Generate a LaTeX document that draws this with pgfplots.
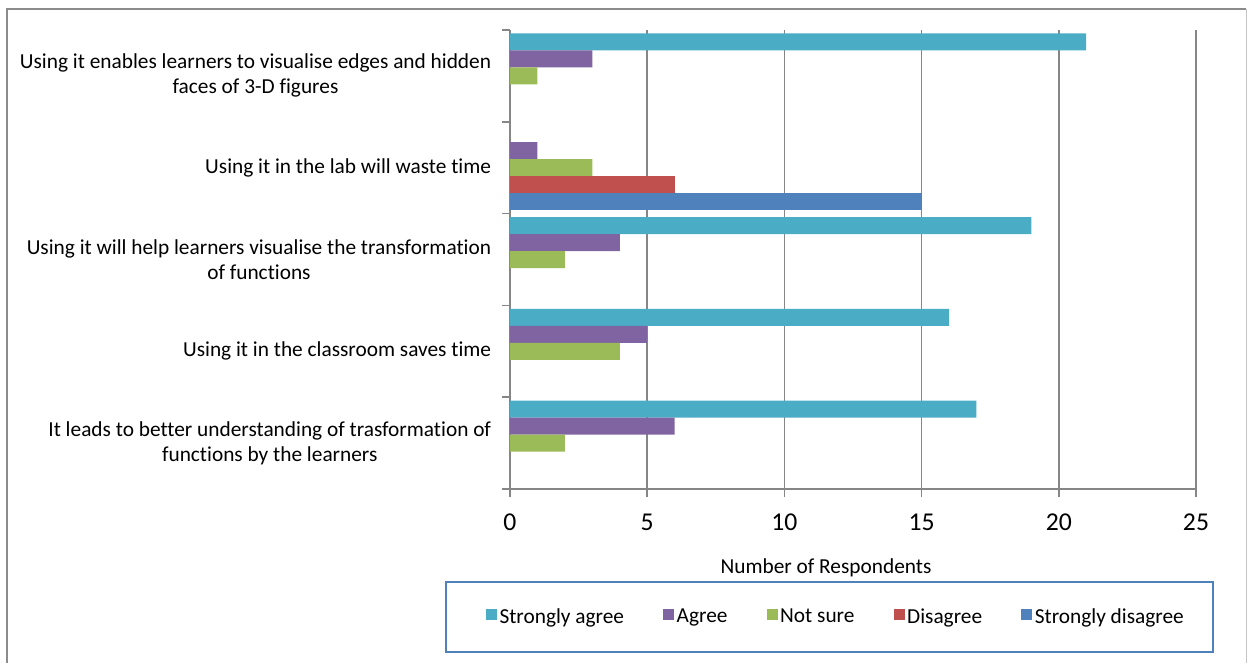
\documentclass[border=0pt]{standalone}
\usepackage{fontspec}
\setmainfont{Carlito}[Ligatures=NoCommon]
\usepackage{pgfplots}
\pgfplotsset{compat=1.18}
\definecolor{csa}{HTML}{4BACC6}
\definecolor{cag}{HTML}{8064A2}
\definecolor{cns}{HTML}{9BBB59}
\definecolor{cdi}{HTML}{C0504D}
\definecolor{csd}{HTML}{4F81BD}
\definecolor{gridgray}{HTML}{868686}
\definecolor{bordergray}{HTML}{8C8C8C}
\definecolor{legblue}{HTML}{4F81BD}
\begin{document}
\begin{tikzpicture}
\useasboundingbox (-306pt,-103.8pt) rectangle (442.2pt,293.4pt);
\draw[draw=bordergray, line width=1.2pt] (-301.8pt,-110pt) -- (-301.8pt,288pt) -- (441.6pt,288pt);
\draw[draw=bordergray!50, line width=0.6pt] (441.6pt,288pt) -- (441.6pt,-110pt);
\begin{axis}[
  at={(0pt,0pt)}, anchor=south west,
  scale only axis, width=411.6pt, height=275.4pt,
  xbar, bar width=0.185,
  xmin=0, xmax=25, ymin=0.5, ymax=5.5,
  axis lines=left,
  axis line style={-, draw=gridgray, line width=0.9pt},
  xtick={0,5,10,15,20,25},
  xmajorgrids,
  grid style={draw=gridgray, line width=0.9pt},
  ytick={0.5,1.5,2.5,3.5,4.5,5.5},
  y tick label as interval,
  yticklabels={{It leads to better understanding of trasformation of\\functions by the learners},
               {Using it in the classroom saves time},
               {Using it will help learners visualise the transformation\\of functions},
               {Using it in the lab will waste time},
               {Using it enables learners to visualise edges and hidden\\faces of 3-D figures}},
  tick align=outside,
  major tick length=4.8pt,
  tick style={draw=gridgray, line width=0.9pt},
  /pgf/number format/assume math mode=true,
  xticklabel style={font=\fontsize{15.4}{18}\selectfont, yshift=-6.4pt},
  yticklabel style={font=\fontsize{12.8}{15}\selectfont, align=center, xshift=-3pt},
  xlabel={Number of Respondents},
  xlabel style={font=\fontsize{12.8}{15}\selectfont, at={(axis description cs:0.4606,0)}, anchor=center, yshift=-47.4pt},
  legend columns=5,
  legend image code/.code={\fill[#1,draw=none] (0pt,-2pt) rectangle (6.6pt,4.6pt);},
  legend style={font=\fontsize{12.8}{15}\selectfont, draw=none, fill=none,
    at={(axis description cs:0.4755,-0.2789)}, anchor=center,
    nodes={inner xsep=1.5pt},
    /tikz/every even column/.append style={column sep=22pt}},
]
\addplot[fill=csa, draw=none, bar shift=0.37] coordinates {(21,5) (19,3) (16,2) (17,1)};
\addlegendentry{Strongly agree}
\addplot[fill=cag, draw=none, bar shift=0.185] coordinates {(3,5) (1,4) (4,3) (5,2) (6,1)};
\addlegendentry{Agree}
\addplot[fill=cns, draw=none, bar shift=0] coordinates {(1,5) (3,4) (2,3) (4,2) (2,1)};
\addlegendentry{Not sure}
\addplot[fill=cdi, draw=none, bar shift=-0.185] coordinates {(6,4)};
\addlegendentry{Disagree}
\addplot[fill=csd, draw=none, bar shift=-0.37] coordinates {(15,4)};
\addlegendentry{Strongly disagree}
\end{axis}
\draw[draw=legblue, line width=1pt] (-38.4pt,-55.8pt) rectangle (421.8pt,-97.8pt);
\end{tikzpicture}
\end{document}
